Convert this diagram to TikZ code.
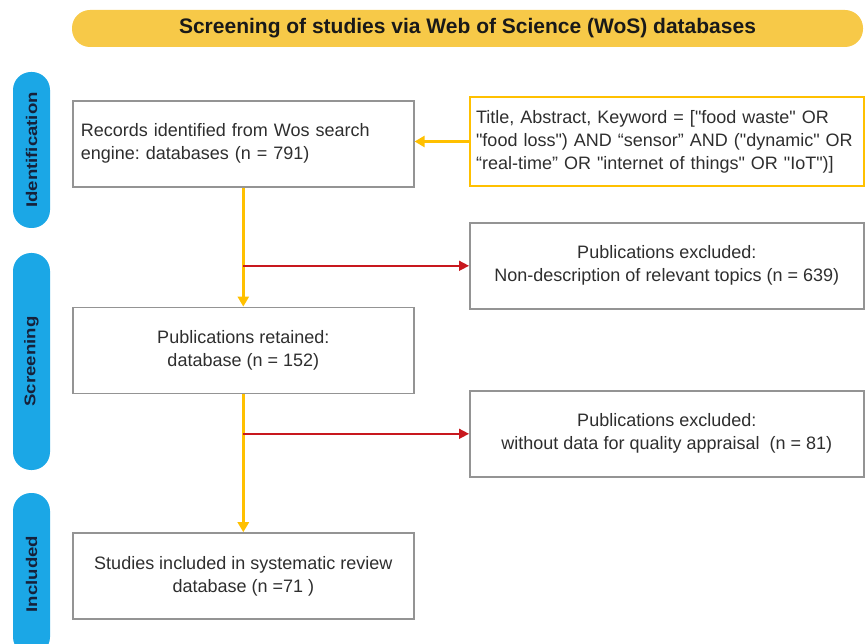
\documentclass[tikz,border=0pt]{standalone}
\usepackage{fontspec}
\setmainfont{Liberation Sans}[Ligatures=TeXOff]
\newfontfamily\phasefont{Liberation Sans}[FakeStretch=1.2]
\usetikzlibrary{positioning, arrows.meta, calc}
\frenchspacing

\definecolor{wosyellow}{HTML}{F7C948}
\definecolor{flowyellow}{HTML}{FFC000}
\definecolor{phaseblue}{HTML}{1BA7E6}
\definecolor{phasetext}{HTML}{16213A}
\definecolor{exclred}{HTML}{C8181E}
\definecolor{boxgray}{HTML}{949494}
\definecolor{textgray}{HTML}{2E2E2E}

\begin{document}
\begin{tikzpicture}[x=1pt, y=-1pt,
        every node/.style={font=\fontsize{18}{23}\selectfont, text=textgray},
        stagebox/.style={draw=boxgray, line width=1.6pt, rectangle, minimum width=341pt, minimum height=86pt, inner sep=0pt, align=center},
        sidebox/.style={draw=boxgray, line width=1.6pt, rectangle, minimum width=394pt, minimum height=86pt, inner sep=0pt, align=center},
        phase/.style={fill=phaseblue, rounded corners=18pt, minimum height=37pt, inner sep=0pt, rotate=90,
          font=\fontsize{15.5}{18}\phasefont\bfseries, text=phasetext},
        flow/.style={-{Triangle[length=10pt, width=11pt]}, flowyellow, line width=3pt},
        drop/.style={-{Triangle[length=10pt, width=10pt]}, exclred, line width=1.6pt}]
      \useasboundingbox (0,0) rectangle (865,644);
      \clip (0,0) rectangle (865,644);

      % Title banner
      \node[fill=wosyellow, rounded corners=18pt, minimum width=791pt, minimum height=37pt, inner sep=0pt,
        font=\fontsize{21}{24}\selectfont\bfseries, text=black!90] (title) at (467.5,28.5)
        {Screening of studies via Web of Science (WoS) databases};

      % Phase labels
      \node[phase, minimum width=156pt] (ident) at (31.5,150) {Identification};
      \node[phase, minimum width=217pt] (screen) at (31.5,361.5) {Screening};
      \node[phase, minimum width=162pt] (incl) at (31.5,574) {Included};

      % Main column
      \node[stagebox, anchor=north west, text width=325pt, inner xsep=8pt, align=left] (records) at (72,100)
        {Records identified from Wos search\\engine: databases (n = 791)};
      \node[stagebox, below=119pt of records] (retained) {Publications retained:\\database (n = 152)};
      \node[stagebox, below=138pt of retained] (included) {Studies included in systematic review\\database (n =71 )};

      % Search query
      \node[draw=flowyellow, line width=2.2pt, rectangle, minimum width=394pt, minimum height=89pt, inner xsep=6pt,
        text width=382pt, align=left, anchor=west] (query) at (469,141.5)
        {Title, Abstract, Keyword = ["food waste" OR\\"food loss") AND “sensor” AND ("dynamic" OR\\“real-time” OR "internet of things" OR "IoT")]};
      \draw[flow] (query.west) -- (query.west -| records.east);

      % Exclusions
      \node[sidebox, anchor=north west] (excl1) at (469,222) {Publications excluded:\\Non-description of relevant topics (n = 639)};
      \node[sidebox, anchor=north west] (excl2) at (469,390) {Publications excluded:\\without data for quality appraisal\ \ (n = 81)};

      \draw[flow] (records) -- (retained);
      \draw[flow] (retained) -- (included);

      \coordinate (split1) at (records.south |- excl1.west);
      \coordinate (split2) at (records.south |- excl2.west);
      \draw[drop] (split1) -- (excl1.west);
      \draw[drop] (split2) -- (excl2.west);
    \end{tikzpicture}
\end{document}
